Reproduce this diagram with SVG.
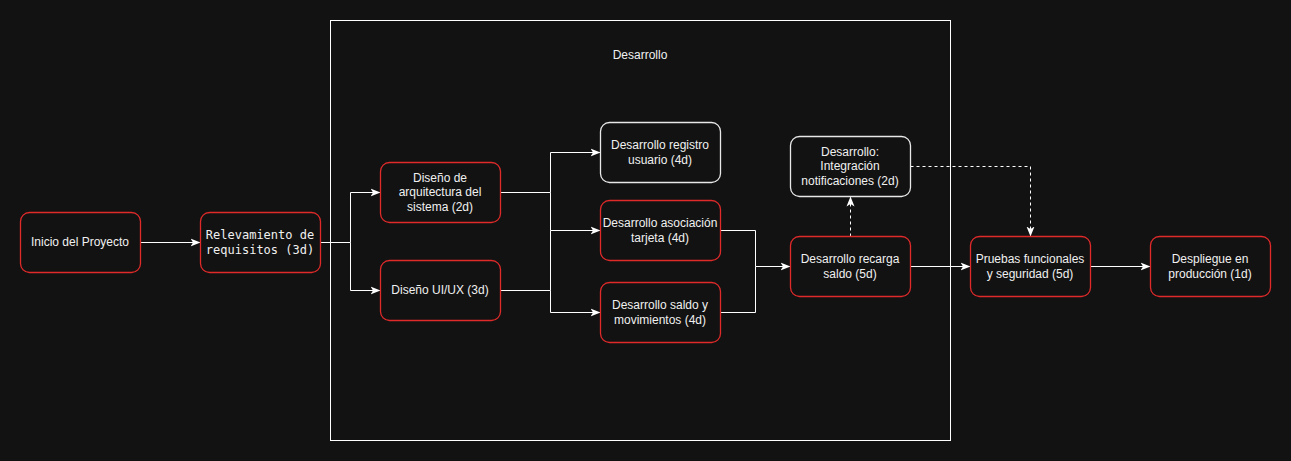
<svg xmlns="http://www.w3.org/2000/svg" width="1291" height="461" viewBox="0 0 1291 461">
<style>
.n rect{fill:#121212;stroke:#e02a2a;stroke-width:1.3}
.w rect{stroke:#e8e8e8}
text{font-family:"Liberation Sans",Arial,sans-serif;font-size:12px;fill:#f0f0f0;text-anchor:middle}
.mono{font-family:"DejaVu Sans Mono","Liberation Mono",monospace}
.c path{fill:none;stroke:#ffffff;stroke-width:1}
.c .d{stroke-dasharray:3 3}
</style>
<defs>
<marker id="a" viewBox="0 0 10 10" refX="9" refY="5" markerWidth="10" markerHeight="10" markerUnits="userSpaceOnUse" orient="auto">
<path d="M0,1 L10,5 L0,9 L2.5,5 Z" fill="#ffffff"/>
</marker>
</defs>
<rect width="1291" height="461" fill="#121212"/>
<g id="desarrollo">
<rect x="330.5" y="20.5" width="620" height="420" fill="none" stroke="#ffffff" stroke-width="1"/>
<text x="640" y="59">Desarrollo</text>
</g>
<g class="c" id="connectors" transform="translate(0.5,0.5)">
<path d="M140,242 H199" marker-end="url(#a)"/>
<path d="M320,242 H350 V192 H379" marker-end="url(#a)"/>
<path d="M350,242 V290 H379" marker-end="url(#a)"/>
<path d="M500,192 H550 V152 H599" marker-end="url(#a)"/>
<path d="M550,192 V230 H599" marker-end="url(#a)"/>
<path d="M500,290 H550 V312 H599" marker-end="url(#a)"/>
<path d="M550,230 V290"/>
<path d="M720,230 H755 V266 H789" marker-end="url(#a)"/>
<path d="M720,312 H755 V266"/>
<path class="d" d="M850,236 V197" marker-end="url(#a)"/>
<path d="M910,266 H969" marker-end="url(#a)"/>
<path class="d" d="M910,166 H1030 V235" marker-end="url(#a)"/>
<path d="M1090,266 H1149" marker-end="url(#a)"/>
</g>
<g id="inicio" class="n"><rect x="20.5" y="212.5" width="120" height="60" rx="9"/><text x="80" y="246">Inicio del Proyecto</text></g>
<g id="relevamiento" class="n"><rect x="200.5" y="212.5" width="120" height="60" rx="9"/><text class="mono" x="260" y="239">Relevamiento de</text><text class="mono" x="260" y="254">requisitos (3d)</text></g>
<g id="arquitectura" class="n"><rect x="380.5" y="162.5" width="120" height="60" rx="9"/><text x="440" y="182">Diseño de</text><text x="440" y="196">arquitectura del</text><text x="440" y="211">sistema (2d)</text></g>
<g id="uiux" class="n"><rect x="380.5" y="260.5" width="120" height="60" rx="9"/><text x="440" y="294">Diseño UI/UX (3d)</text></g>
<g id="registro" class="n w"><rect x="600.5" y="122.5" width="120" height="60" rx="9"/><text x="660" y="149">Desarrollo registro</text><text x="660" y="164">usuario (4d)</text></g>
<g id="asociacion" class="n"><rect x="600.5" y="200.5" width="120" height="60" rx="9"/><text x="660" y="227">Desarrollo asociación</text><text x="660" y="242">tarjeta (4d)</text></g>
<g id="saldo" class="n"><rect x="600.5" y="282.5" width="120" height="60" rx="9"/><text x="660" y="309">Desarrollo saldo y</text><text x="660" y="324">movimientos (4d)</text></g>
<g id="notificaciones" class="n w"><rect x="790.5" y="136.5" width="120" height="60" rx="9"/><text x="850" y="156">Desarrollo:</text><text x="850" y="170">Integración</text><text x="850" y="185">notificaciones (2d)</text></g>
<g id="recarga" class="n"><rect x="790.5" y="236.5" width="120" height="60" rx="9"/><text x="850" y="263">Desarrollo recarga</text><text x="850" y="278">saldo (5d)</text></g>
<g id="pruebas" class="n"><rect x="970.5" y="236.5" width="120" height="60" rx="9"/><text x="1030" y="263">Pruebas funcionales</text><text x="1030" y="278">y seguridad (5d)</text></g>
<g id="despliegue" class="n"><rect x="1150.5" y="236.5" width="120" height="60" rx="9"/><text x="1210" y="263">Despliegue en</text><text x="1210" y="278">producción (1d)</text></g>
</svg>
